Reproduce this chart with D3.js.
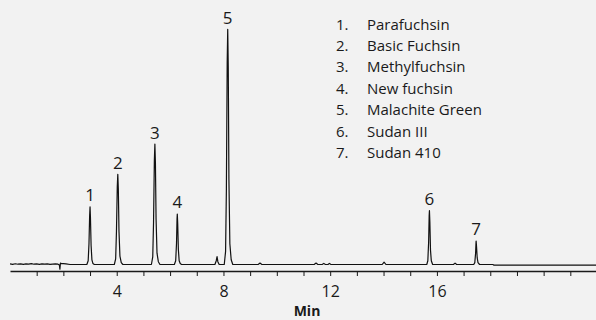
<!DOCTYPE html>
<html>
<head>
<meta charset="utf-8">
<script src="https://cdn.jsdelivr.net/npm/d3@7"></script>
<style>
  html, body { margin: 0; padding: 0; background: #f2f2f2; }
  svg { display: block; }
  text { font-family: "Open Sans", "Noto Sans", sans-serif; fill: #1a1a1a; }
</style>
</head>
<body>
<svg id="chart" width="596" height="320"></svg>
<script>
// Peak identities, retention times (min) and apex heights (mAU)
const compounds = ["Parafuchsin", "Basic Fuchsin", "Methylfuchsin", "New fuchsin",
                   "Malachite Green", "Sudan III", "Sudan 410"];
const retentionTimes = [3.00, 4.04, 5.43, 6.27, 8.16, 15.72, 17.47];
const peakHeights = [61.4, 95.9, 128, 53.7, 250, 57.2, 25];
const xTickLabels = [4, 8, 12, 16];

// Detector trace: time (min)
const traceTime = [
  0.00, 0.10, 0.20, 0.30, 0.40, 0.50, 0.60, 0.70, 0.80, 0.90, 1.00, 1.10, 1.20, 1.30,
  1.40, 1.50, 1.60, 1.70, 1.80, 1.85, 1.87, 1.89, 1.92, 2.00, 2.10, 2.25,
  2.88, 2.93, 2.96, 2.985, 3.00, 3.015, 3.04, 3.07, 3.11, 3.16,
  3.91, 3.96, 3.99, 4.02, 4.04, 4.06, 4.085, 4.12, 4.17, 4.23,
  5.30, 5.35, 5.38, 5.41, 5.43, 5.45, 5.475, 5.51, 5.56, 5.62,
  6.16, 6.21, 6.24, 6.26, 6.27, 6.285, 6.31, 6.34, 6.38, 6.43,
  7.68, 7.73, 7.76, 7.79, 7.84,
  8.03, 8.08, 8.11, 8.14, 8.16, 8.18, 8.205, 8.24, 8.29, 8.35,
  9.30, 9.37, 9.44,
  11.40, 11.47, 11.54, 11.70, 11.76, 11.82, 11.92, 11.97, 12.03,
  13.95, 14.02, 14.09,
  15.62, 15.66, 15.69, 15.71, 15.72, 15.735, 15.76, 15.79, 15.84,
  16.62, 16.68, 16.74,
  17.38, 17.42, 17.45, 17.465, 17.47, 17.485, 17.51, 17.54, 17.60,
  18.10, 18.14, 22.00
];
// Detector trace: signal (mAU)
const traceSignal = [
  0.6, 0.2, 0.8, 0.3, 0.7, 0.2, 0.6, 0.4, 0.9, 0.3, 0.6, 0.2, 0.7, 0.3,
  0.6, 0.2, 0.5, 0.7, 0.3, -0.5, -5.0, 1.5, 1.0, 0.9, 0.6, 0.0,
  0, 4, 22, 52, 61.4, 50, 20, 5, 1, 0,
  0, 6, 35, 82, 95.9, 80, 35, 9, 2, 0,
  0, 8, 45, 110, 128, 108, 48, 12, 3, 0,
  0, 4, 22, 48, 53.7, 44, 16, 4, 1, 0,
  0, 4, 8.3, 3, 0,
  0, 14, 80, 215, 250, 210, 90, 22, 5, 0,
  0, 1.5, 0,
  0, 1.5, 0, 0, 1.2, 0, 0, 1.2, 0,
  0, 2.5, 0,
  0, 4, 24, 52, 57.2, 46, 15, 4, 0,
  0, 1.5, 0,
  0, 2, 12, 23, 25, 19, 7, 2, 0,
  0, -0.7, -0.7
];

const svg = d3.select("#chart");

const x = d3.scaleLinear().domain([0, 22]).range([10, 597]);
const y = d3.scaleLinear().domain([0, 250]).range([264.5, 29.3]);

// Axis with a tick every minute, labels every 4 min
const axis = d3.axisBottom(x)
  .tickValues(d3.range(1, 22))
  .tickFormat(d => xTickLabels.includes(d) ? d : "")
  .tickSizeInner(5)
  .tickSizeOuter(0)
  .tickPadding(10);

const gAxis = svg.append("g").attr("transform", "translate(0,271)").call(axis);
gAxis.select(".domain").attr("stroke", "#1a1a1a").attr("stroke-width", 1.6);
gAxis.selectAll(".tick line").attr("stroke", "#1a1a1a").attr("stroke-width", 1);
gAxis.selectAll(".tick text")
  .attr("font-size", 16)
  .attr("fill", "#1a1a1a")
  .style("font-family", '"Open Sans", sans-serif');

svg.append("text")
  .attr("x", 307).attr("y", 316)
  .attr("text-anchor", "middle")
  .attr("font-size", 14)
  .attr("font-weight", 700)
  .text("Min");

// Chromatogram trace
const points = traceTime.map((t, i) => [t, traceSignal[i]]);
svg.append("path")
  .datum(points)
  .attr("fill", "none")
  .attr("stroke", "#111")
  .attr("stroke-width", 1.2)
  .attr("stroke-linejoin", "round")
  .attr("d", d3.line().x(d => x(d[0])).y(d => y(d[1])));

// Peak numbers above each apex
svg.selectAll("text.peak")
  .data(retentionTimes)
  .join("text")
  .attr("class", "peak")
  .attr("x", d => x(d))
  .attr("y", (d, i) => y(peakHeights[i]) - 5.5)
  .attr("text-anchor", "middle")
  .attr("font-size", 17)
  .text((d, i) => i + 1);

// Compound legend
const legend = svg.append("g");
compounds.forEach((name, i) => {
  const ly = 29.5 + i * 21.4;
  legend.append("text")
    .attr("x", 336).attr("y", ly)
    .attr("font-size", 15).attr("fill", "#2a2a2a")
    .text((i + 1) + ".");
  legend.append("text")
    .attr("x", 367).attr("y", ly)
    .attr("font-size", 15).attr("fill", "#2a2a2a")
    .text(name);
});
</script>
</body>
</html>
